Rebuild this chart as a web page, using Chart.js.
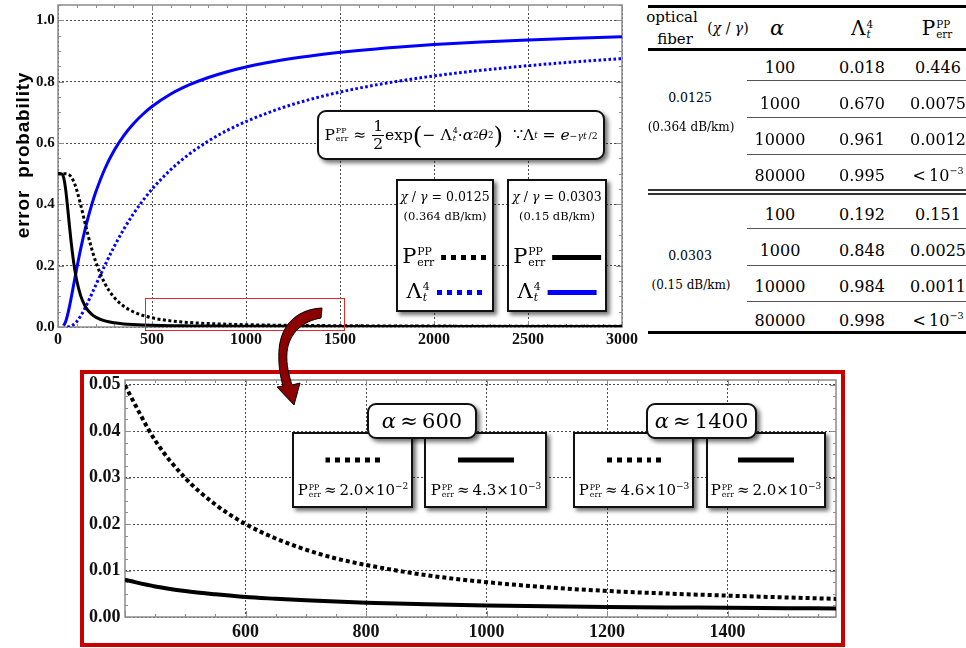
<!DOCTYPE html>
<html>
<head>
<meta charset="utf-8">
<script src="https://cdn.jsdelivr.net/npm/chart.js@4.4.1/dist/chart.umd.min.js"></script>
<style>
html,body{margin:0;padding:0;background:#fff;}
body{width:966px;height:648px;overflow:hidden;position:relative;font-family:"DejaVu Serif",serif;color:#000;}
canvas{position:absolute;}
.abs{position:absolute;}
.sc{display:inline-flex;flex-direction:column;vertical-align:middle;line-height:0.95;font-size:0.52em;text-align:left;margin-left:1px;}
.sc i{font-style:italic;}
.box{position:absolute;background:#fff;border:2px solid #111;box-shadow:3px 3px 4px rgba(0,0,0,0.55);box-sizing:border-box;}
.round{border-radius:9px;}
.center{display:flex;align-items:center;justify-content:center;white-space:nowrap;}
.frac{display:inline-flex;flex-direction:column;vertical-align:middle;align-items:center;line-height:1.05;margin:0 1px;}
.frac span:first-child{border-bottom:1px solid #000;padding:0 1px;}
.paren{font-size:1.6em;vertical-align:-4px;font-weight:200;}
.t{position:absolute;transform:translate(-50%,-50%);white-space:nowrap;}
.hl{position:absolute;background:#000;}
.sample-dot{display:inline-block;height:5px;width:47px;background:repeating-linear-gradient(90deg,currentColor 0 5px,transparent 5px 10px);vertical-align:middle;}
.sample-line{display:inline-block;height:5px;width:49px;background:currentColor;vertical-align:middle;}
</style>
</head>
<body>

<canvas id="overview" style="left:0;top:0" width="645" height="348"></canvas>

<!-- formula -->
<div class="box round center" style="left:317px;top:110px;width:288px;height:50px;font-size:15.5px;">
  P<span class="sc"><span>PP</span><span>err</span></span>&nbsp;≈&nbsp;<span class="frac"><span>1</span><span>2</span></span>exp<span class="paren">(</span>−&nbsp;Λ<span class="sc"><span>4</span><i>t</i></span>·<i>α</i><sup style="font-size:0.55em">2</sup><i>θ</i><sup style="font-size:0.55em">2</sup><span class="paren">)</span>&nbsp;&nbsp;∵Λ<sub style="font-size:0.55em"><i>t</i></sub>&nbsp;=&nbsp;<i>e</i><sup style="font-size:0.6em">−<i>γt</i>&thinsp;/2</sup>
</div>

<!-- series keys -->
<div class="box" style="left:396px;top:179px;width:98px;height:133px;">
  <div class="t" style="left:47px;top:15px;font-size:12.5px;"><i>χ</i> / <i>γ</i> = 0.0125</div>
  <div class="t" style="left:47px;top:35px;font-size:11.5px;">(0.364 dB/km)</div>
  <div class="t" style="left:47px;top:75px;font-size:21px;">P<span class="sc"><span>PP</span><span>err</span></span>&nbsp;<span class="sample-dot" style="color:#000"></span></div>
  <div class="t" style="left:47px;top:110px;font-size:21px;">Λ<span class="sc"><span>4</span><i>t</i></span>&nbsp;<span class="sample-dot" style="color:#0000ff"></span></div>
</div>
<div class="box" style="left:507px;top:179px;width:100px;height:133px;">
  <div class="t" style="left:48px;top:15px;font-size:12.5px;"><i>χ</i> / <i>γ</i> = 0.0303</div>
  <div class="t" style="left:48px;top:35px;font-size:11.5px;">(0.15 dB/km)</div>
  <div class="t" style="left:48px;top:75px;font-size:21px;">P<span class="sc"><span>PP</span><span>err</span></span>&nbsp;<span class="sample-line" style="color:#000"></span></div>
  <div class="t" style="left:48px;top:110px;font-size:21px;">Λ<span class="sc"><span>4</span><i>t</i></span>&nbsp;<span class="sample-line" style="color:#0000ff"></span></div>
</div>

<!-- zoom region marker -->
<div class="abs" style="left:145px;top:298px;width:200px;height:33px;border:1.5px solid #e02a2a;box-sizing:border-box;"></div>

<!-- zoomed panel -->
<div class="abs" style="left:80px;top:370px;width:765px;height:277px;border:4px solid #c80000;box-sizing:border-box;"></div>
<canvas id="detail" style="left:84px;top:374px" width="757" height="269"></canvas>

<div class="box" style="left:292px;top:432px;width:121px;height:76px;">
  <div class="t" style="left:59px;top:25px;"><span class="sample-dot" style="color:#000;width:55px;"></span></div>
  <div class="t" style="left:59px;top:56px;font-size:15px;">P<span class="sc"><span>PP</span><span>err</span></span>&thinsp;≈&thinsp;2.0×10<sup style="font-size:0.6em">−2</sup></div>
</div>
<div class="box" style="left:424px;top:432px;width:123px;height:76px;">
  <div class="t" style="left:60px;top:25px;"><span class="sample-line" style="color:#000;width:56px;"></span></div>
  <div class="t" style="left:60px;top:56px;font-size:15px;">P<span class="sc"><span>PP</span><span>err</span></span>&thinsp;≈&thinsp;4.3×10<sup style="font-size:0.6em">−3</sup></div>
</div>
<div class="box round center" style="left:367px;top:403px;width:110px;height:36px;font-size:21px;"><i>α</i>&thinsp;≈&thinsp;600</div>

<div class="box" style="left:573px;top:432px;width:121px;height:76px;">
  <div class="t" style="left:59px;top:25px;"><span class="sample-dot" style="color:#000;width:55px;"></span></div>
  <div class="t" style="left:59px;top:56px;font-size:15px;">P<span class="sc"><span>PP</span><span>err</span></span>&thinsp;≈&thinsp;4.6×10<sup style="font-size:0.6em">−3</sup></div>
</div>
<div class="box" style="left:706px;top:432px;width:120px;height:76px;">
  <div class="t" style="left:58px;top:25px;"><span class="sample-line" style="color:#000;width:56px;"></span></div>
  <div class="t" style="left:58px;top:56px;font-size:15px;">P<span class="sc"><span>PP</span><span>err</span></span>&thinsp;≈&thinsp;2.0×10<sup style="font-size:0.6em">−3</sup></div>
</div>
<div class="box round center" style="left:646px;top:403px;width:111px;height:36px;font-size:21px;"><i>α</i>&thinsp;≈&thinsp;1400</div>

<!-- summary table -->
<div id="table"></div>

<!-- pointer from marker to panel -->
<svg class="abs" style="left:0;top:0;pointer-events:none" width="966" height="648">
  <path d="M322,308 C300,309 281,322 279,350 C278,368 281,378 283,386 L277,387 L294,405 L300,383 L292,385 C289,375 286,365 287,352 C289,333 303,321 321,318 Z" fill="#8b0000" stroke="#000" stroke-width="1"/>
</svg>

<script>
// ---- overview curves (α from 0 to 3000) ----
const alphaMain = [0,10,20,30,40,50,60,70,80,90,100,120,140,160,180,200,250,300,350,400,450,500,600,700,800,900,1000,1200,1400,1600,1800,2000,2250,2500,2750,3000];
// χ/γ = 0.0303 (0.15 dB/km)
const perrLowLoss   = [0.5,0.5,0.4992,0.4874,0.452,0.397,0.335,0.2766,0.226,0.184,0.151,0.103,0.0731,0.0538,0.0411,0.0323,0.0198,0.0136,0.0101,0.008,0.0066,0.0056,0.0043,0.0036,0.0031,0.0028,0.0025,0.0022,0.002,0.0018,0.0017,0.0016,0.0015,0.0014,0.0014,0.0013];
const lambdaLowLoss = [null,null,null,0.0041,0.0162,0.0369,0.0639,0.0947,0.1271,0.1599,0.192,0.2528,0.3077,0.3566,0.3998,0.4382,0.5169,0.5769,0.6241,0.662,0.693,0.7189,0.7596,0.79,0.8136,0.8325,0.848,0.8715,0.8888,0.902,0.9124,0.9208,0.9293,0.9361,0.9418,0.9465];
// χ/γ = 0.0125 (0.364 dB/km)
const perrHighLoss   = [0.5,0.5,0.5,0.5,0.4999,0.499,0.496,0.4898,0.479,0.4645,0.446,0.3997,0.3488,0.2989,0.2533,0.2141,0.141,0.0957,0.0677,0.0498,0.038,0.0299,0.02,0.0145,0.0112,0.009,0.0075,0.0056,0.0046,0.0038,0.0033,0.003,0.0026,0.0024,0.0022,0.0021];
const lambdaHighLoss = [null,null,null,null,null,0.0003,0.0013,0.0033,0.0067,0.0117,0.018,0.0357,0.0574,0.0821,0.1084,0.1353,0.2019,0.2636,0.3189,0.3679,0.4111,0.4493,0.5134,0.5647,0.6065,0.6412,0.670,0.7165,0.7515,0.7788,0.8007,0.8187,0.8371,0.8521,0.8646,0.8752];
const xTicksMain = [0,500,1000,1500,2000,2500,3000];
const yTicksMain = [0,0.2,0.4,0.6,0.8,1.0];
const yTitleMain = 'error  probability';

// ---- detail curves (α from 400 to ~1580) ----
const alphaDetail = [400,450,500,550,600,650,700,750,800,900,1000,1100,1200,1300,1400,1500,1580];
const perrHighDetail = [0.0498,0.038,0.0299,0.0242,0.02,0.0169,0.0145,0.0126,0.0112,0.009,0.0075,0.0064,0.0056,0.00505,0.0046,0.0042,0.0039];
const perrLowDetail  = [0.008,0.00658,0.00559,0.00488,0.0043,0.00392,0.00358,0.00331,0.00309,0.00275,0.0025,0.0023,0.00215,0.00205,0.002,0.0019,0.00184];
const xTicksDetail = [600,800,1000,1200,1400];
const yTicksDetail = [0,0.01,0.02,0.03,0.04,0.05];

// ---- table ----
const fiberRatio = ['0.0125','0.0303'];
const fiberLoss  = ['0.364 dB/km','0.15 dB/km'];
const tableAlpha = ['100','1000','10000','80000'];
const tableLambda = [['0.018','0.670','0.961','0.995'],['0.192','0.848','0.984','0.998']];
const tablePerr   = [['0.446','0.0075','0.0012','<10^-3'],['0.151','0.0025','0.0011','<10^-3']];

const pts = (xs, ys) => xs.map((x, i) => ({x, y: ys[i]}));
const asTicks = list => s => { s.ticks = list.map(v => ({value: v})); };

// grey frame with inward major/minor ticks on all four sides
const framePlugin = {
  id: 'frame',
  beforeDatasetsDraw(chart, args, o) {
    const {ctx, chartArea: a} = chart;
    const xs = chart.scales.x, ys = chart.scales.y;
    ctx.save();
    ctx.strokeStyle = o.color;
    ctx.lineWidth = 1;
    ctx.beginPath();
    const i0 = Math.ceil(xs.min / o.xStep - 1e-9), i1 = Math.floor(xs.max / o.xStep + 1e-9);
    for (let i = i0; i <= i1; i++) {
      const v = i * o.xStep;
      const px = Math.round(xs.getPixelForValue(v)) + 0.5;
      const r = v / o.xMajor;
      const len = Math.abs(r - Math.round(r)) < 1e-6 ? o.major : o.minor;
      ctx.moveTo(px, a.bottom); ctx.lineTo(px, a.bottom - len);
      ctx.moveTo(px, a.top); ctx.lineTo(px, a.top + len);
    }
    const j0 = Math.ceil(ys.min / o.yStep - 1e-9), j1 = Math.floor(ys.max / o.yStep + 1e-9);
    for (let j = j0; j <= j1; j++) {
      const v = j * o.yStep;
      const py = Math.round(ys.getPixelForValue(v)) + 0.5;
      const r = v / o.yMajor;
      const len = Math.abs(r - Math.round(r)) < 1e-6 ? o.major : o.minor;
      ctx.moveTo(a.left, py); ctx.lineTo(a.left + len, py);
      ctx.moveTo(a.right, py); ctx.lineTo(a.right - len, py);
    }
    ctx.stroke();
    ctx.lineWidth = o.width;
    ctx.strokeRect(a.left, a.top, a.right - a.left, a.bottom - a.top);
    ctx.restore();
  }
};

// rotated y-axis caption
const yCaption = {
  id: 'yCaption',
  afterDraw(chart, args, o) {
    if (!o.text) return;
    const ctx = chart.ctx;
    ctx.save();
    ctx.translate(o.x, o.y);
    ctx.rotate(-Math.PI / 2);
    ctx.font = o.font;
    if ('letterSpacing' in ctx) ctx.letterSpacing = o.spacing;
    ctx.textAlign = 'center';
    ctx.textBaseline = 'middle';
    ctx.fillStyle = '#000';
    ctx.fillText(o.text, 0, 0);
    ctx.restore();
  }
};

const gridOpts = {color: '#4a4a4a', lineWidth: 1, drawTicks: false};
const borderOpts = {display: false, dash: [2, 2]};

// overview chart
new Chart(document.getElementById('overview'), {
  type: 'line',
  data: {
    datasets: [
      {data: pts(alphaMain, perrLowLoss), borderColor: '#000', borderWidth: 3, order: 0},
      {data: pts(alphaMain, perrHighLoss), borderColor: '#000', borderWidth: 3, borderDash: [3, 2.5], order: 1},
      {data: pts(alphaMain, lambdaLowLoss), borderColor: '#0000ff', borderWidth: 3, order: 2},
      {data: pts(alphaMain, lambdaHighLoss), borderColor: '#0000ff', borderWidth: 3, borderDash: [2.6, 2.4], order: 3}
    ]
  },
  options: {
    responsive: false, animation: false,
    layout: {padding: {left: 36, top: 5, right: 23, bottom: 0}},
    elements: {point: {radius: 0}, line: {cubicInterpolationMode: 'monotone', borderCapStyle: 'butt', fill: false}},
    plugins: {legend: {display: false}, tooltip: {enabled: false},
      frame: {color: '#8c8c8c', width: 1.5, xStep: 100, xMajor: 500, yStep: 0.05, yMajor: 0.2, minor: 3, major: 6},
      yCaption: {text: yTitleMain, x: 24, y: 155, font: 'bold 19px "Liberation Sans", Arial, sans-serif', spacing: '0.8px'}},
    scales: {
      x: {type: 'linear', min: 0, max: 3000,
        afterFit: s => { s.height = 21; },
        afterBuildTicks: asTicks(xTicksMain),
        ticks: {padding: 3, color: '#111', font: {family: 'Liberation Serif', weight: 'bold', size: 16}, callback: v => String(v)},
        grid: gridOpts, border: borderOpts},
      y: {type: 'linear', min: 0, max: 1.05,
        afterFit: s => { s.width = 22; },
        afterBuildTicks: asTicks(yTicksMain),
        ticks: {padding: 0, crossAlign: 'far', color: '#111', font: {family: 'Liberation Serif', weight: 'bold', size: 15, lineHeight: 0.5}, callback: v => v.toFixed(1)},
        grid: gridOpts, border: borderOpts}
    }
  },
  plugins: [framePlugin, yCaption]
});

// detail chart
new Chart(document.getElementById('detail'), {
  type: 'line',
  data: {
    datasets: [
      {data: pts(alphaDetail, perrLowDetail), borderColor: '#000', borderWidth: 4, order: 0},
      {data: pts(alphaDetail, perrHighDetail), borderColor: '#000', borderWidth: 4, borderDash: [4, 3], order: 1}
    ]
  },
  options: {
    responsive: false, animation: false,
    layout: {padding: {left: 5, top: 6, right: 5, bottom: 0}},
    elements: {point: {radius: 0}, line: {cubicInterpolationMode: 'monotone', borderCapStyle: 'butt', fill: false}},
    plugins: {legend: {display: false}, tooltip: {enabled: false},
      frame: {color: '#8c8c8c', width: 1.5, xStep: 50, xMajor: 200, yStep: 0.0025, yMajor: 0.01, minor: 3, major: 6}},
    scales: {
      x: {type: 'linear', min: 400, max: 1580,
        afterFit: s => { s.height = 26; },
        afterBuildTicks: asTicks(xTicksDetail),
        ticks: {padding: 5, color: '#111', font: {family: 'Liberation Serif', weight: 'bold', size: 18}, callback: v => String(v)},
        grid: gridOpts, border: borderOpts},
      y: {type: 'linear', min: 0, max: 0.051,
        afterFit: s => { s.width = 36; },
        afterBuildTicks: asTicks(yTicksDetail),
        ticks: {padding: 0, crossAlign: 'far', color: '#111', font: {family: 'Liberation Serif', weight: 'bold', size: 18, lineHeight: 0.5}, callback: v => v.toFixed(2)},
        grid: gridOpts, border: borderOpts}
    }
  },
  plugins: [framePlugin]
});

// table
(function buildTable() {
  const host = document.getElementById('table');
  const add = (html, x, y, size) => {
    const d = document.createElement('div');
    d.className = 't';
    d.style.left = x + 'px'; d.style.top = y + 'px'; d.style.fontSize = size + 'px';
    d.innerHTML = html;
    host.appendChild(d);
  };
  const line = (x, y, w, h, color) => {
    const d = document.createElement('div');
    d.className = 'hl';
    d.style.cssText += `left:${x}px;top:${y}px;width:${w}px;height:${h}px;background:${color};`;
    host.appendChild(d);
  };
  const fmtP = s => s.startsWith('<') ? '&lt;&thinsp;10<sup style="font-size:0.6em">−3</sup>' : s;

  line(648, 5, 318, 3, '#000');
  line(648, 48, 318, 3, '#000');
  [80, 117, 154, 228, 265, 301].forEach(y => line(747, y, 219, 1, '#555'));
  line(648, 189, 318, 1.5, '#333');
  line(648, 193, 318, 1.5, '#333');
  line(648, 331, 318, 3, '#000');

  add('optical', 672, 17, 15);
  add('fiber', 675, 39, 15);
  add('(<i>χ</i> / <i>γ</i>)', 728, 28, 14);
  add('<i>α</i>', 777, 28, 21);
  add('Λ<span class="sc"><span>4</span><i>t</i></span>', 862, 28, 20);
  add('P<span class="sc"><span>PP</span><span>err</span></span>', 937, 28, 20);

  const rowY = [[67, 103, 139, 175], [214, 250, 286, 320]];
  const ratioY = [[97, 127], [255, 285]];
  for (let g = 0; g < 2; g++) {
    add(fiberRatio[g], 690, ratioY[g][0], 12.5);
    add('(' + fiberLoss[g] + ')', 691, ratioY[g][1], 12);
    for (let r = 0; r < 4; r++) {
      add(tableAlpha[r], 780, rowY[g][r], 16);
      add(tableLambda[g][r], 862, rowY[g][r], 16);
      add(fmtP(tablePerr[g][r]), 938, rowY[g][r], 16);
    }
  }
})();
</script>
</body>
</html>
